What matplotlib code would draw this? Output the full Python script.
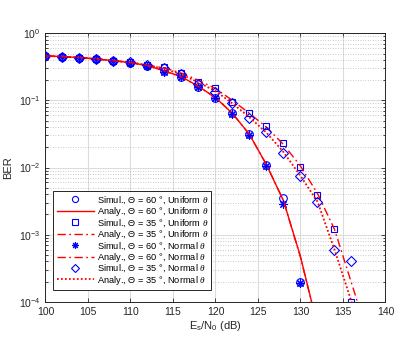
import numpy as np
import matplotlib
matplotlib.use('Agg')
import matplotlib.pyplot as plt
from matplotlib.ticker import LogLocator, NullFormatter

plt.rcParams['font.family'] = ['Liberation Sans', 'DejaVu Sans']
plt.rcParams['mathtext.fontset'] = 'custom'
plt.rcParams['mathtext.rm'] = 'Liberation Sans'
plt.rcParams['mathtext.it'] = 'Liberation Serif:italic'

# Es/N0 grid (dB)
snr = np.arange(100, 140, 2)

# simulation points
sim_60_uni = [0.46, 0.45, 0.435, 0.415, 0.39, 0.365, 0.33, 0.27, 0.225, 0.16,
              0.11, 0.064, 0.032, 0.0108, 0.0035, 2.0e-4]
sim_35_uni = [0.46, 0.45, 0.435, 0.415, 0.39, 0.37, 0.335, 0.31, 0.253, 0.19,
              0.151, 0.096, 0.064, 0.041, 0.023, 0.0103, 0.0039, 0.0012, 1.0e-4]
sim_60_nor = [0.46, 0.45, 0.435, 0.415, 0.39, 0.365, 0.33, 0.268, 0.225, 0.158,
              0.11, 0.063, 0.031, 0.0106, 0.0029, 1.9e-4]
sim_35_nor = [0.46, 0.45, 0.435, 0.415, 0.39, 0.37, 0.333, 0.30, 0.245, 0.175,
              0.135, 0.090, 0.054, 0.034, 0.0166, 0.0075, 0.0031, 6.0e-4, 4.0e-4]

# analytical curves
ana_60_uni = [0.46, 0.45, 0.435, 0.415, 0.39, 0.365, 0.33, 0.275, 0.225, 0.162,
              0.11, 0.064, 0.031, 0.011, 0.0032, 4.7e-4, 4.4e-5]
ana_35_uni = [0.46, 0.45, 0.435, 0.415, 0.39, 0.37, 0.335, 0.305, 0.255, 0.20,
              0.150, 0.100, 0.064, 0.040, 0.022, 0.0105, 0.0041, 0.0012, 1.9e-4, 3.0e-5]
ana_60_nor = [0.46, 0.45, 0.435, 0.415, 0.39, 0.365, 0.33, 0.274, 0.224, 0.161,
              0.11, 0.064, 0.031, 0.011, 0.0032, 4.6e-4, 4.3e-5]
ana_35_nor = [0.46, 0.45, 0.435, 0.415, 0.39, 0.37, 0.333, 0.295, 0.245, 0.185,
              0.138, 0.090, 0.056, 0.033, 0.017, 0.0075, 0.0031, 6.0e-4, 1.0e-4, 1.0e-5]

RED = '#ff0000'
BLUE = '#0000ff'
AX = '#262626'

fig = plt.figure(figsize=(4.15, 3.47), dpi=100)
ax = fig.add_axes([0.1096, 0.1305, 0.8193, 0.7735])

mk = dict(linestyle='none', color=BLUE, markerfacecolor='none', markeredgewidth=0.8)

ax.plot(snr[:len(sim_60_uni)], sim_60_uni, marker='o', markersize=5.5,
        label=r'Simul., Θ = 60 °, Uniform $\it{\theta}$', **mk)
ax.plot(snr[:len(ana_60_uni)], ana_60_uni, '-', color=RED, lw=1.0,
        label=r'Analy., Θ = 60 °, Uniform $\it{\theta}$')
ax.plot(snr[:len(sim_35_uni)], sim_35_uni, marker='s', markersize=5,
        label=r'Simul., Θ = 35 °, Uniform $\it{\theta}$', **mk)
ax.plot(snr[:len(ana_35_uni)], ana_35_uni, color=RED, lw=1.0,
        linestyle=(0, (6, 2.5, 1.2, 2.5)),
        label=r'Analy., Θ = 35 °, Uniform $\it{\theta}$')
ax.plot(snr[:len(sim_60_nor)], sim_60_nor, marker=(8, 2, 0), markersize=6,
        label=r'Simul., Θ = 60 °, Normal $\it{\theta}$', **mk)
ax.plot(snr[:len(ana_60_nor)], ana_60_nor, color=RED, lw=1.0,
        linestyle=(0, (6, 2.5, 1.2, 2.5)),
        label=r'Analy., Θ = 60 °, Normal $\it{\theta}$')
ax.plot(snr[:len(sim_35_nor)], sim_35_nor, marker='D', markersize=4.7,
        label=r'Simul., Θ = 35 °, Normal $\it{\theta}$', **mk)
ax.plot(snr[:len(ana_35_nor)], ana_35_nor, color=RED, lw=1.3,
        linestyle=(0, (1, 1.2)),
        label=r'Analy., Θ = 35 °, Normal $\it{\theta}$')

ax.set_yscale('log')
ax.set_xlim(100, 140)
ax.set_ylim(1e-4, 1)
ax.set_xticks(np.arange(100, 141, 5))
ax.yaxis.set_major_locator(LogLocator(base=10, numticks=10))
ax.yaxis.set_minor_locator(LogLocator(base=10, subs=np.arange(2, 10), numticks=50))
ax.yaxis.set_minor_formatter(NullFormatter())

ax.grid(True, which='major', color='#dcdcdc', lw=0.8, ls='-')
ax.grid(True, which='minor', axis='y', color='#b8b8b8', lw=0.6, ls=(0, (1, 2)))
ax.set_axisbelow(True)

ax.tick_params(which='both', direction='in', top=True, right=True, colors=AX,
               labelsize=7.5, width=0.6)
ax.tick_params(which='major', length=3)
ax.tick_params(which='minor', length=1.8)
for s in ax.spines.values():
    s.set_color(AX)
    s.set_linewidth(0.7)

ax.set_xlabel(r'E$_\mathrm{s}$/N$_\mathrm{0}$ (dB)', fontsize=8, color=AX, labelpad=2)
ax.set_ylabel('BER', fontsize=8, color=AX, labelpad=4)

leg = ax.legend(loc='lower left', bbox_to_anchor=(0.023, 0.044), borderaxespad=0,
                fontsize=6.7, handlelength=4.0, handletextpad=0.3, labelspacing=-0.08,
                borderpad=0.35, markerscale=0.8, frameon=True, fancybox=False,
                framealpha=1)
leg.get_frame().set_edgecolor(AX)
leg.get_frame().set_linewidth(0.7)

fig.savefig('out.png', dpi=100)
